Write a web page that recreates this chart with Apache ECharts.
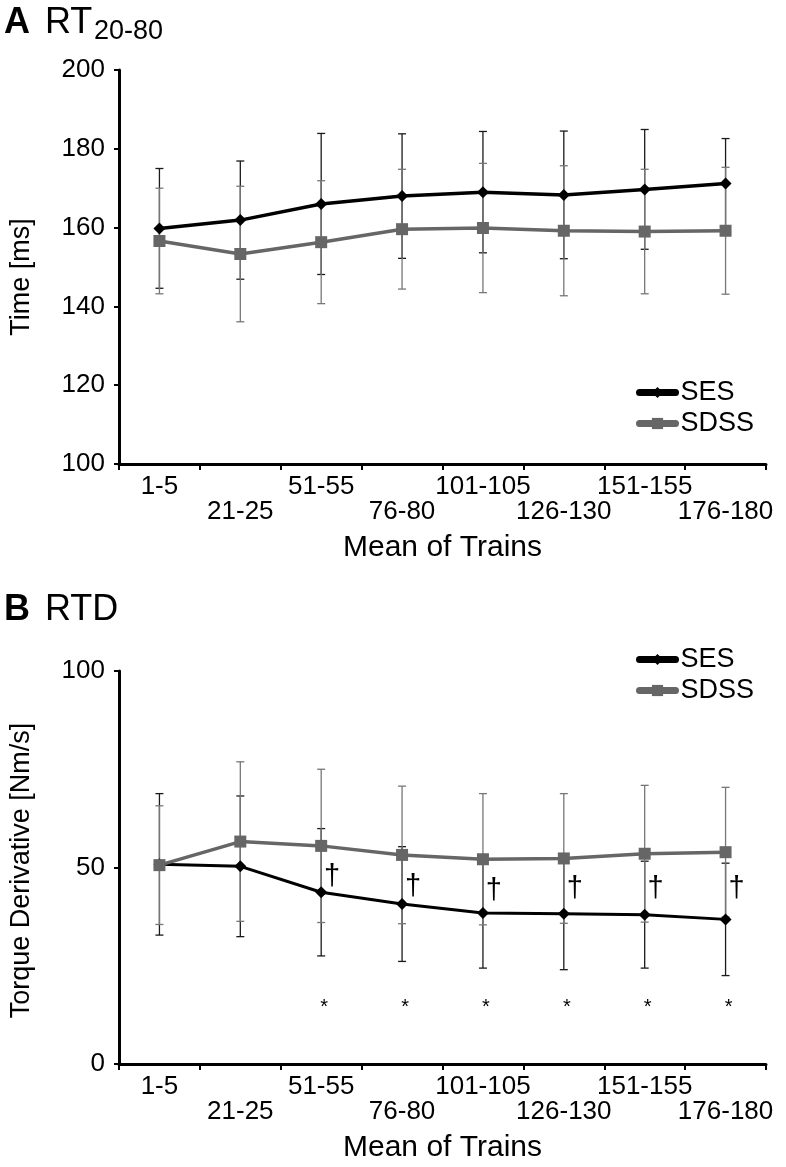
<!DOCTYPE html>
<html>
<head>
<meta charset="utf-8">
<script src="https://cdn.jsdelivr.net/npm/echarts/dist/echarts.min.js"></script>
<style>
  html, body { margin: 0; padding: 0; background: #fff; }
  #chart { width: 786px; height: 1167px; }
</style>
</head>
<body>
<div id="chart"></div>
<script>
const categories = ['1-5', '21-25', '51-55', '76-80', '101-105', '126-130', '151-155', '176-180']

// A: RT20-80, time [ms], mean and SD
const rtSES = [159.8, 161.9, 166.0, 168.0, 169.0, 168.3, 169.7, 171.2]
const rtSESsd = [15.2, 15.0, 17.9, 15.8, 15.4, 16.2, 15.2, 11.4]
const rtSDSS = [156.6, 153.3, 156.3, 159.6, 159.9, 159.2, 159.0, 159.2]
const rtSDSSsd = [13.4, 17.2, 15.6, 15.2, 16.4, 16.5, 15.8, 16.1]

// B: RTD, torque derivative [Nm/s], mean and SD
const rtdSES = [50.8, 50.3, 43.7, 40.7, 38.4, 38.2, 38.0, 36.8]
const rtdSESsd = [18.0, 17.9, 16.2, 14.6, 14.0, 14.2, 13.6, 14.3]
const rtdSDSS = [50.6, 56.6, 55.5, 53.2, 52.1, 52.3, 53.5, 53.9]
const rtdSDSSsd = [15.1, 20.3, 19.5, 17.5, 16.7, 16.5, 17.4, 16.5]

// significance marks in panel B (category index, value level)
const daggerCats = [2, 3, 4, 5, 6, 7]
const daggerLevel = [47.5, 45.0, 44.0, 44.5, 44.5, 44.5]
const asteriskCats = [2, 3, 4, 5, 6, 7]
const asteriskLevel = 14.5

const FONT = '"Liberation Sans", Arial, Helvetica, sans-serif'
const GREY = '#666666'

function bars(mean, sd) {
  return mean.map((m, i) => [i, m - sd[i], m + sd[i]])
}

function errorBar(color) {
  return function (params, api) {
    const i = api.value(0)
    const lo = api.coord([i, api.value(1)])
    const hi = api.coord([i, api.value(2)])
    const hw = 4
    const st = { stroke: color, lineWidth: 1.3 }
    return {
      type: 'group',
      children: [
        { type: 'line', shape: { x1: hi[0], y1: hi[1], x2: lo[0], y2: lo[1] }, style: st },
        { type: 'line', shape: { x1: hi[0] - hw, y1: hi[1], x2: hi[0] + hw, y2: hi[1] }, style: st },
        { type: 'line', shape: { x1: lo[0] - hw, y1: lo[1], x2: lo[0] + hw, y2: lo[1] }, style: st },
      ],
    }
  }
}

function mark(text, size, dx) {
  return function (params, api) {
    const p = api.coord([api.value(0), api.value(1)])
    return {
      type: 'text',
      x: p[0] + dx,
      y: p[1],
      style: { text: text, font: size + 'px ' + FONT, fill: '#000', align: 'center', verticalAlign: 'middle' },
    }
  }
}

function xAxis(gridIndex) {
  return {
    type: 'category',
    gridIndex: gridIndex,
    data: categories,
    axisLine: { lineStyle: { color: '#000', width: 3 } },
    axisTick: { show: true, length: 6, lineStyle: { color: '#000', width: 2 } },
    axisLabel: {
      interval: 0,
      color: '#000',
      fontFamily: FONT,
      fontSize: 26,
      lineHeight: 25,
      margin: 10,
      formatter: (v, i) => (i % 2 ? '\n' + v : v),
    },
    name: 'Mean of Trains',
    nameLocation: 'middle',
    nameGap: 69,
    nameTextStyle: { color: '#000', fontFamily: FONT, fontSize: 30 },
    splitLine: { show: false },
  }
}

function yAxis(gridIndex, min, max, interval, name, pad) {
  return {
    type: 'value',
    gridIndex: gridIndex,
    min: min,
    max: max,
    interval: interval,
    axisLine: { show: true, lineStyle: { color: '#000', width: 3 } },
    axisTick: { show: true, length: 5, lineStyle: { color: '#000', width: 2 } },
    axisLabel: { color: '#000', fontFamily: FONT, fontSize: 26, margin: 14 },
    splitLine: { show: false },
    name: name,
    nameLocation: 'middle',
    nameGap: 84,
    nameTextStyle: { color: '#000', fontFamily: FONT, fontSize: 27, padding: pad },
  }
}

function lineSeries(name, data, idx, color, symbol, size, width) {
  return {
    name: name,
    type: 'line',
    xAxisIndex: idx,
    yAxisIndex: idx,
    data: data,
    symbol: symbol,
    symbolSize: size,
    z: 5,
    lineStyle: { color: color, width: width },
    itemStyle: { color: color },
  }
}

function barSeries(name, mean, sd, idx, color) {
  return {
    name: name,
    type: 'custom',
    xAxisIndex: idx,
    yAxisIndex: idx,
    data: bars(mean, sd),
    encode: { x: 0, y: [1, 2] },
    renderItem: errorBar(color),
    z: 2,
  }
}

function legend(top) {
  return {
    data: ['SES', 'SDSS'],
    orient: 'vertical',
    left: 631,
    top: top,
    itemWidth: 36,
    itemHeight: 14,
    itemGap: 4,
    lineStyle: { width: 7, cap: 'round' },
    textStyle: { color: '#000', fontFamily: FONT, fontSize: 27, lineHeight: 25 },
  }
}

const chart = echarts.init(document.getElementById('chart'))
chart.setOption({
  animation: false,
  backgroundColor: '#fff',
  grid: [
    { left: 116, right: 20, top: 70, height: 394 },
    { left: 116, right: 20, top: 671, height: 393 },
  ],
  legend: [legend(374), legend(641)],
  xAxis: [xAxis(0), xAxis(1)],
  yAxis: [
    yAxis(0, 100, 200, 20, 'Time [ms]', [0, 20, 0, 0]),
    yAxis(1, 0, 100, 50, 'Torque Derivative [Nm/s]', [0, 6, 0, 0]),
  ],
  graphic: [
    { type: 'text', x: 4, y: 23, style: { text: 'A', font: 'bold 36px ' + FONT, fill: '#000', verticalAlign: 'middle' } },
    { type: 'text', x: 45, y: 23, style: { text: 'RT', font: '36px ' + FONT, fill: '#000', verticalAlign: 'middle' } },
    { type: 'text', x: 94, y: 32, style: { text: '20-80', font: '27px ' + FONT, fill: '#000', verticalAlign: 'middle' } },
    { type: 'text', x: 4, y: 610, style: { text: 'B', font: 'bold 36px ' + FONT, fill: '#000', verticalAlign: 'middle' } },
    { type: 'text', x: 45, y: 610, style: { text: 'RTD', font: '36px ' + FONT, fill: '#000', verticalAlign: 'middle' } },
  ],
  series: [
    barSeries('SES sd A', rtSES, rtSESsd, 0, '#1a1a1a'),
    barSeries('SDSS sd A', rtSDSS, rtSDSSsd, 0, '#777'),
    lineSeries('SES', rtSES, 0, '#000', 'diamond', 12, 3.5),
    lineSeries('SDSS', rtSDSS, 0, GREY, 'rect', 12, 3.5),
    barSeries('SES sd B', rtdSES, rtdSESsd, 1, '#1a1a1a'),
    barSeries('SDSS sd B', rtdSDSS, rtdSDSSsd, 1, '#777'),
    lineSeries('SES', rtdSES, 1, '#000', 'diamond', 12, 3),
    lineSeries('SDSS', rtdSDSS, 1, GREY, 'rect', 12, 3.5),
    {
      name: 'dagger',
      type: 'custom',
      xAxisIndex: 1,
      yAxisIndex: 1,
      data: daggerCats.map((c, i) => [c, daggerLevel[i]]),
      renderItem: mark('†', 29, 11),
      z: 6,
    },
    {
      name: 'asterisk',
      type: 'custom',
      xAxisIndex: 1,
      yAxisIndex: 1,
      data: asteriskCats.map((c) => [c, asteriskLevel]),
      renderItem: mark('*', 20, 3),
      z: 6,
    },
  ],
})
</script>
</body>
</html>
